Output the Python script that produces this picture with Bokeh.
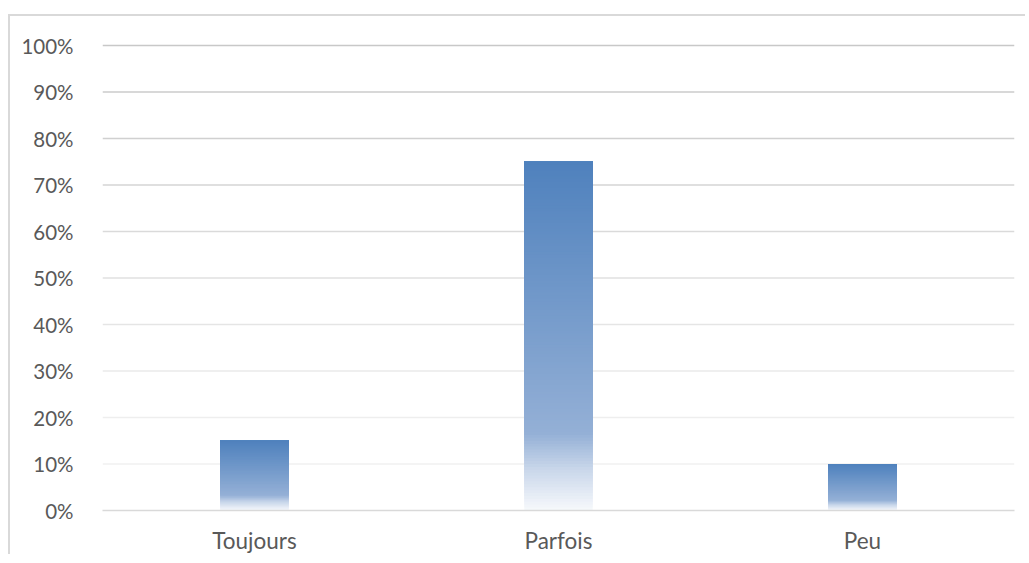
from bokeh.plotting import figure
from bokeh.models import FactorRange, Range1d, NumeralTickFormatter, FixedTicker, Span, ColumnDataSource
from bokeh.embed import file_html
from bokeh.resources import INLINE

# ---- data ----
categories = ["Toujours", "Parfois", "Peu"]
values = [0.15, 0.75, 0.10]
y_ticks = [0.0, 0.1, 0.2, 0.3, 0.4, 0.5, 0.6, 0.7, 0.8, 0.9, 1.0]

# ---- styles ----
FONT = "Lato"
TEXT_COLOR = "#595959"
grid_colors = ["#d9d9d9", "#f1f1f1", "#eeeeee", "#eaeaea", "#e5e5e5", "#e0e0e0",
               "#dadada", "#d4d4d4", "#d0d0d0", "#cbcbcb", "#c8c8c8"]
# gradient stops: (fraction from bar bottom, rgb)
stops = [(0.0, (247, 249, 252)), (0.12, (200, 214, 234)), (0.22, (148, 176, 214)), (1.0, (79, 129, 189))]
N_SLICES = 120
BAR_WIDTH = 0.225


def grad_color(f):
    for (f0, c0), (f1, c1) in zip(stops[:-1], stops[1:]):
        if f0 <= f <= f1:
            t = (f - f0) / (f1 - f0)
            r, g, b = (int(round(a + (bb - a) * t)) for a, bb in zip(c0, c1))
            return "#%02x%02x%02x" % (r, g, b)
    return "#%02x%02x%02x" % stops[-1][1]


p = figure(
    x_range=FactorRange(*categories, range_padding=0),
    y_range=Range1d(0, 470 / 465),
    width=1017, height=540,
    output_backend="svg", toolbar_location=None,
    min_border_left=92, min_border_right=13, min_border_top=24, min_border_bottom=46,
)
p.styles = {"border-top": "2px solid #d9d9d9", "border-left": "2px solid #d9d9d9",
            "margin-top": "14px", "margin-left": "8px"}
p.outline_line_color = None
p.xgrid.visible = False
p.ygrid.visible = False
p.background_fill_color = "white"
p.border_fill_color = "white"

for t, c in zip(y_ticks[1:], grid_colors[1:]):
    p.add_layout(Span(location=t, dimension="width", line_color=c, line_width=1.5, level="underlay"))

# gradient bars built from the values: each slice spans from its bottom to the bar top,
# later (higher) slices are drawn over earlier ones
xs, bots, tops, cols = [], [], [], []
for cat, v in zip(categories, values):
    for i in range(N_SLICES):
        xs.append(cat)
        bots.append(v * i / N_SLICES)
        tops.append(v)
        cols.append(grad_color((i + 0.5) / N_SLICES))
src = ColumnDataSource(dict(x=xs, bottom=bots, top=tops, color=cols))
p.vbar(x="x", bottom="bottom", top="top", width=BAR_WIDTH, fill_color="color", line_color=None, source=src)

p.yaxis.ticker = FixedTicker(ticks=y_ticks)
p.yaxis.formatter = NumeralTickFormatter(format="0%")
p.yaxis.axis_line_color = None
p.yaxis.major_tick_line_color = None
p.yaxis.minor_tick_line_color = None
p.yaxis.major_label_standoff = 23
p.yaxis.major_label_text_font = FONT
p.yaxis.major_label_text_font_size = "20.5px"
p.yaxis.major_label_text_color = TEXT_COLOR

p.xaxis.axis_line_color = grid_colors[0]
p.xaxis.axis_line_width = 1.5
p.xaxis.major_tick_line_color = None
p.xaxis.minor_tick_line_color = None
p.xaxis.major_label_standoff = 10
p.xaxis.major_label_text_font = FONT
p.xaxis.major_label_text_font_size = "22.5px"
p.xaxis.major_label_text_color = TEXT_COLOR

open("out.html", "w").write(file_html(p, INLINE))
